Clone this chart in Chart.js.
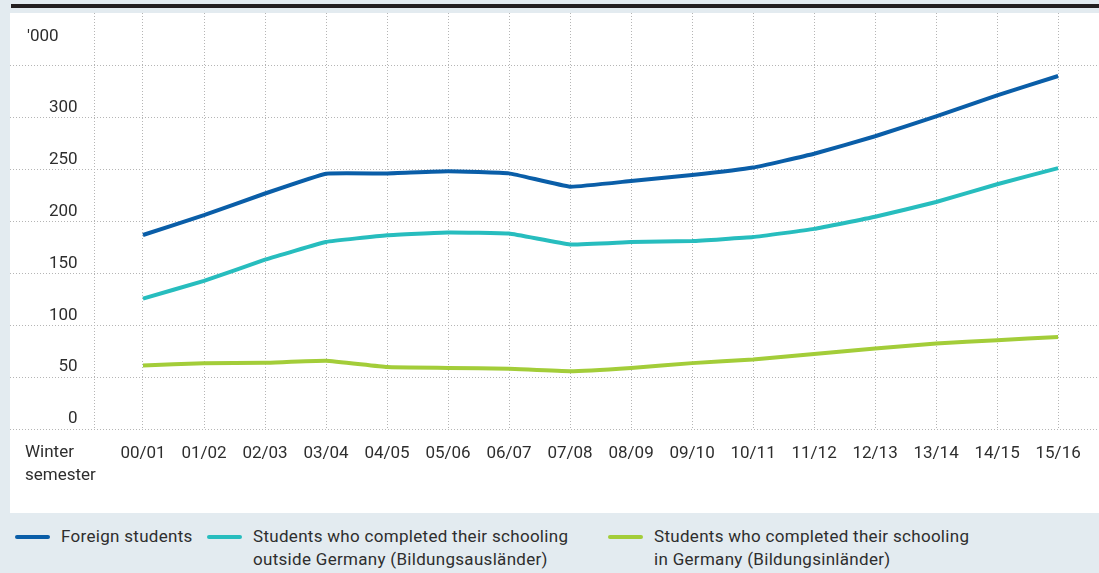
<!DOCTYPE html>
<html>
<head>
<meta charset="utf-8">
<script src="https://cdn.jsdelivr.net/npm/chart.js@4"></script>
<style>
  body { margin: 0; width: 1099px; height: 573px; background: #e3ebf0; position: relative; overflow: hidden; font-family: Roboto, sans-serif; color: #2e2e2e; }
  #topbar { position: absolute; left: 11px; top: 4px; right: 0; height: 4px; background: #231f20; }
  #panel { position: absolute; left: 10px; top: 13px; width: 1089px; height: 500px; background: #fff; }
  #legend { position: absolute; left: 0; top: 525px; width: 1099px; font-size: 17px; line-height: 23px; letter-spacing: 0.3px; }
  .item { position: absolute; top: 0; display: flex; align-items: flex-start; white-space: nowrap; }
  .item:nth-child(1) { left: 15px; }
  .item:nth-child(2) { left: 207px; }
  .item:nth-child(3) { left: 608px; }
  .swatch { width: 35px; height: 4px; margin-top: 10px; margin-right: 11px; border-radius: 2px; }
</style>
</head>
<body>
<div id="topbar"></div>
<div id="panel"><canvas id="linechart" width="1089" height="500"></canvas></div>
<div id="legend"></div>
<script>
var semesters = ["00/01", "01/02", "02/03", "03/04", "04/05", "05/06", "06/07", "07/08",
                 "08/09", "09/10", "10/11", "11/12", "12/13", "13/14", "14/15", "15/16"];
// thousands of students per winter semester
var foreignStudents = [187.0, 206.1, 227.0, 246.1, 246.3, 248.4, 246.4, 233.6,
                       239.1, 244.8, 252.0, 265.3, 282.2, 301.4, 321.6, 340.3];
var bildungsauslaender = [125.7, 142.8, 163.2, 180.3, 186.7, 189.5, 188.4, 177.9,
                          180.2, 181.2, 185.0, 192.9, 204.6, 218.8, 235.9, 251.5];
var bildungsinlaender = [61.3, 63.4, 63.8, 65.8, 59.7, 58.9, 58.0, 55.7,
                         58.9, 63.5, 67.1, 72.4, 77.6, 82.5, 85.6, 88.8];
var yTicks = [0, 50, 100, 150, 200, 250, 300, 350];

var textColor = '#2e2e2e';
var font = { family: 'Roboto', size: 17 };

function points(vals) {
    return vals.map(function (v, i) { return { x: i, y: v }; });
}

// scales sit flush with the canvas edges, no extra padding for labels
function noPadding(scale) {
    scale.paddingTop = 0;
    scale.paddingBottom = 0;
    scale.paddingLeft = 0;
    scale.paddingRight = 0;
}

// extra labels: unit above the y axis, caption left of the semesters
var sideLabels = {
    id: 'sideLabels',
    afterDraw: function (chart) {
        var ctx = chart.ctx;
        ctx.save();
        ctx.fillStyle = textColor;
        ctx.font = '17px Roboto';
        ctx.textAlign = 'left';
        ctx.textBaseline = 'middle';
        ctx.fillText("'000", 17, 24);
        ctx.fillText('Winter', 15, 440);
        ctx.fillText('semester', 15, 463);
        ctx.restore();
    }
};

function linechart() {
    var ctx = document.getElementById('linechart').getContext('2d');
    var chart = new Chart(ctx, {
        type: 'line',
        data: {
            datasets: [{
                label: ['Foreign students'],
                borderColor: '#0a5ea8',
                data: points(foreignStudents)
            }, {
                label: ['Students who completed their schooling', 'outside Germany (Bildungsausländer)'],
                borderColor: '#27bdbe',
                data: points(bildungsauslaender)
            }, {
                label: ['Students who completed their schooling', 'in Germany (Bildungsinländer)'],
                borderColor: '#a3cd39',
                data: points(bildungsinlaender)
            }]
        },
        options: {
            responsive: false,
            animation: false,
            layout: { padding: 0 },
            elements: {
                line: { borderWidth: 4, tension: 0.1, fill: false },
                point: { radius: 0, hoverRadius: 0 }
            },
            plugins: { legend: { display: false }, tooltip: { enabled: false } },
            scales: {
                x: {
                    type: 'linear',
                    min: -2.18,
                    max: 15.67,
                    afterBuildTicks: function (scale) {
                        scale.ticks = [{ value: -0.8 }].concat(semesters.map(function (s, i) { return { value: i }; }));
                    },
                    afterFit: function (scale) { scale.height = 84; noPadding(scale); },
                    grid: { color: '#b5b5b5', lineWidth: 1, drawTicks: false },
                    border: { display: false, dash: [1, 2] },
                    ticks: {
                        autoSkip: false,
                        maxRotation: 0,
                        padding: 15,
                        color: textColor,
                        font: font,
                        callback: function (v) { return v >= 0 ? semesters[v] : ''; }
                    }
                },
                y: {
                    min: 0,
                    max: 401,
                    afterBuildTicks: function (scale) {
                        scale.ticks = yTicks.map(function (v) { return { value: v }; });
                    },
                    afterFit: function (scale) { scale.width = 0; noPadding(scale); },
                    grid: { color: '#b5b5b5', lineWidth: 1, drawTicks: false },
                    border: { display: false, dash: [1, 2] },
                    ticks: {
                        mirror: true,
                        crossAlign: 'far',
                        padding: 39,
                        labelOffset: -10,
                        color: textColor,
                        font: font,
                        callback: function (v) { return v === 350 ? '' : v; }
                    }
                }
            }
        },
        plugins: [sideLabels]
    });

    // legend below the panel
    var legend = document.getElementById('legend');
    chart.data.datasets.forEach(function (ds) {
        var item = document.createElement('div');
        item.className = 'item';
        var sw = document.createElement('span');
        sw.className = 'swatch';
        sw.style.background = ds.borderColor;
        var txt = document.createElement('span');
        txt.innerHTML = ds.label.join('<br>');
        item.appendChild(sw);
        item.appendChild(txt);
        legend.appendChild(item);
    });
}

linechart();
</script>
</body>
</html>
